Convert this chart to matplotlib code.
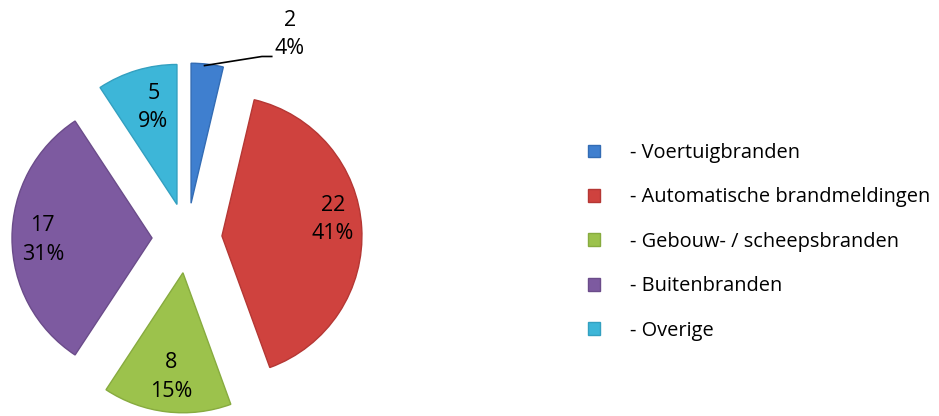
import numpy as np
import matplotlib.pyplot as plt
from matplotlib.patches import Rectangle

plt.rcParams['font.family'] = ['Open Sans', 'DejaVu Sans']

categories = ['- Voertuigbranden', '- Automatische brandmeldingen',
              '- Gebouw- / scheepsbranden', '- Buitenbranden', '- Overige']
counts = [2, 22, 8, 17, 5]
colors = ['#3f7fcf', '#cf423e', '#9cc24c', '#7d5aa0', '#3db6d8']
edges = ['#336cb4', '#b53734', '#87ab3f', '#6b4c8a', '#33a0c0']

fig = plt.figure(figsize=(9.39, 4.16), dpi=100)
ax = fig.add_axes([0, 0, 1, 1])

# pie centre / radius in pixels, axes in units of radius
cx, cy, R = 187, 238, 140
W, H = 939, 416

total = sum(counts)
pct = [round(c / total * 100) for c in counts]

wedges, _ = ax.pie(counts, colors=colors, startangle=90, counterclock=False,
                   explode=[0.25] * 5, radius=1, center=(0, 0),
                   wedgeprops=dict(linewidth=1.0))
for w, e in zip(wedges, edges):
    w.set_edgecolor(e)

# label distance from slice tip and angle nudge (deg), like excel's best fit
lab_r = [0, 0.80, 0.75, 0.78, 0.71]
lab_da = [0, 5, 0, 1, -3]

for i, w in enumerate(wedges):
    mid = (w.theta1 + w.theta2) / 2
    ox, oy = w.center
    txt = f'{counts[i]}\n{pct[i]}%'
    if i == 0:
        a = np.deg2rad(mid)
        ex, ey = ox + np.cos(a) - 0.02, oy + np.sin(a) - 0.01
        ax.plot([ex, ex + 0.41, ex + 0.48], [ey, ey + 0.065, ey + 0.065], color='black', lw=1.2)
        ax.text(ex + 0.61, ey + 0.22, txt, ha='center', va='center', fontsize=15.5,
                linespacing=1.45)
    else:
        a = np.deg2rad(mid + lab_da[i])
        ax.text(ox + lab_r[i] * np.cos(a), oy + lab_r[i] * np.sin(a), txt, ha='center',
                va='center', fontsize=15.5, linespacing=1.45)

ax.set_xlim(-cx / R, (W - cx) / R)
ax.set_ylim(-(H - cy) / R, cy / R)
ax.set_aspect('equal')
ax.axis('off')

handles = [Rectangle((0, 0), 1, 1, facecolor=c, edgecolor=e, lw=1) for c, e in zip(colors, edges)]
fig.legend(handles, categories, loc='upper left', bbox_to_anchor=(588 / W, 1 - 143 / H),
           frameon=False, fontsize=14.4, handlelength=0.6, handleheight=0.6,
           labelspacing=1.22, handletextpad=1.5, borderpad=0, borderaxespad=0)

fig.savefig('out.png', dpi=100)
